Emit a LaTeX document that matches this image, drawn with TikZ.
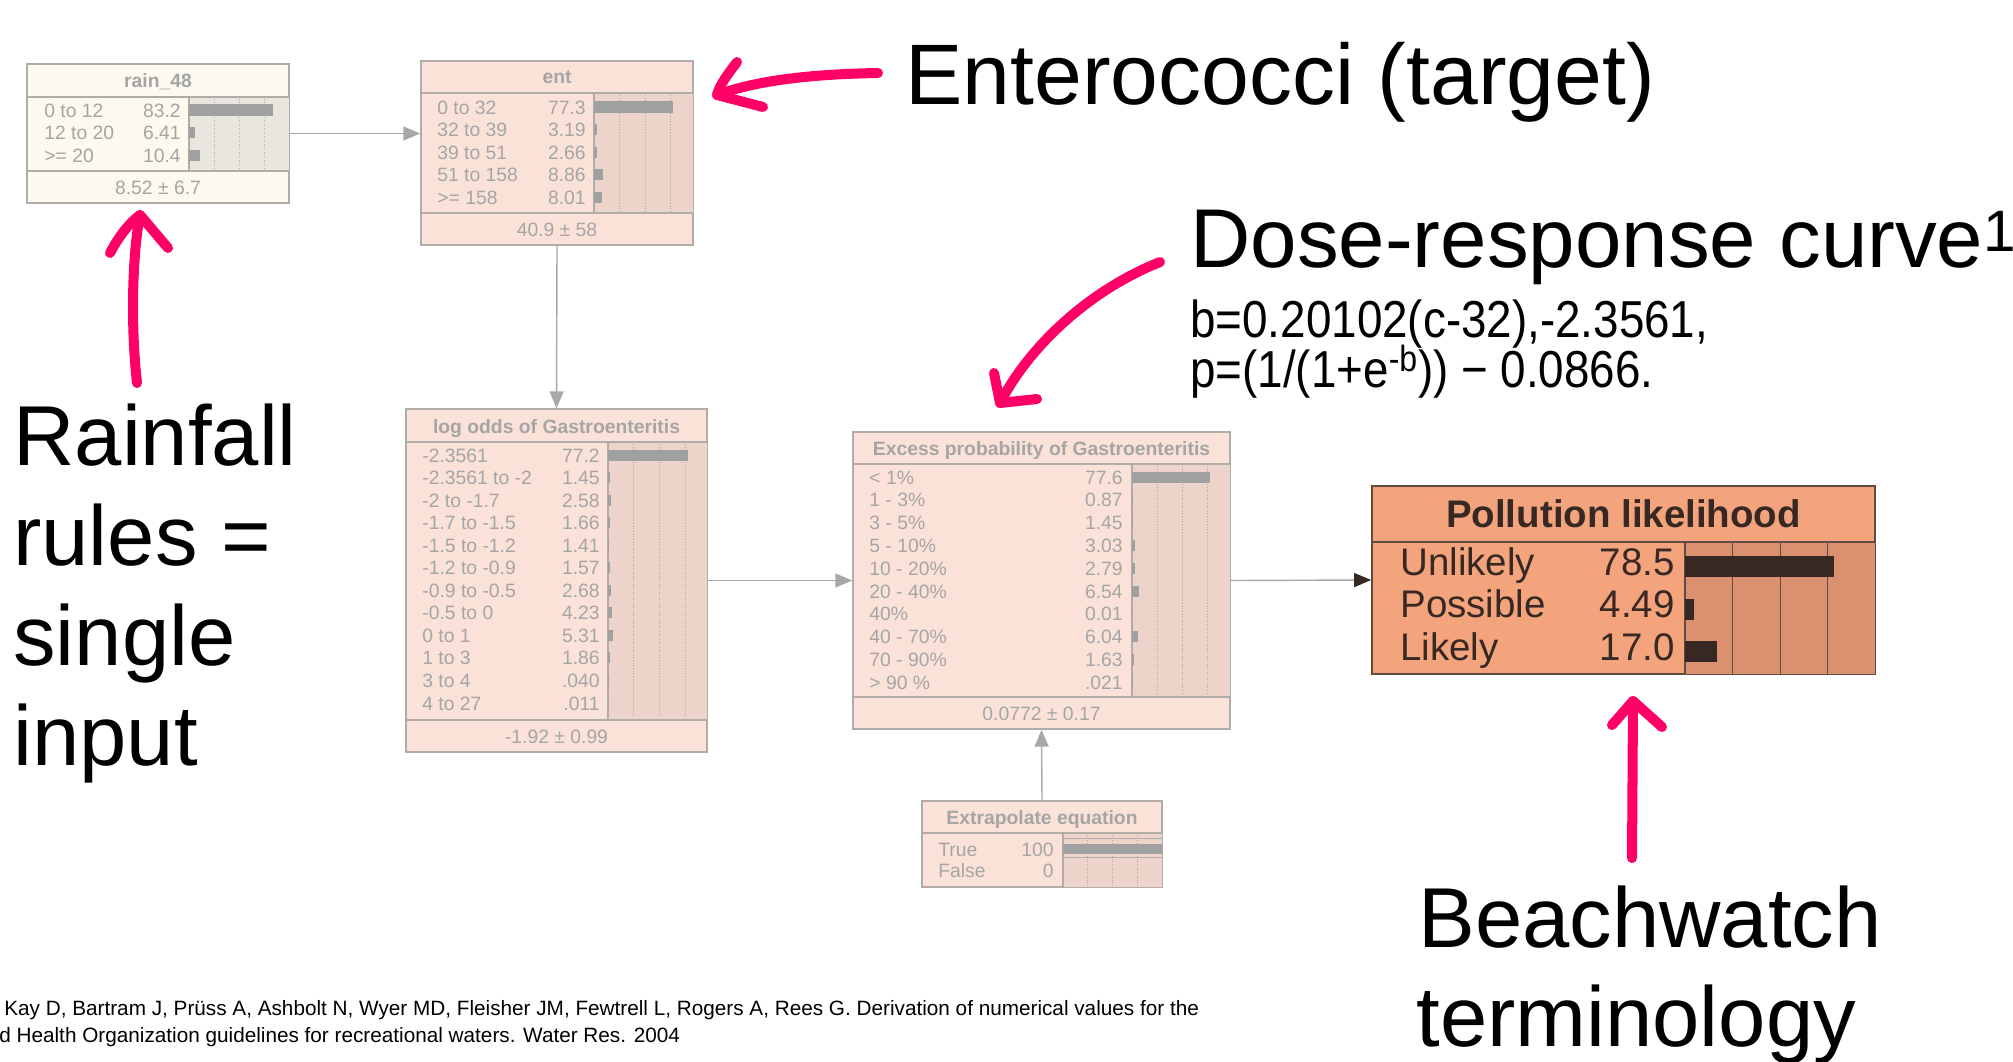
\documentclass[tikz,border=0pt]{standalone}
\usepackage{fontspec}
\setmainfont{Liberation Sans}
\newfontfamily\formulafont[FakeStretch=0.88]{Liberation Sans}
\usepackage{xcolor}
\usetikzlibrary{arrows.meta, positioning, calc, fit}
\definecolor{pinkAnn}{RGB}{255, 0, 102}
\definecolor{netLine}{RGB}{178, 172, 169}
\definecolor{netText}{RGB}{165, 165, 165}
\definecolor{netBar}{RGB}{160, 160, 160}
\definecolor{linkGray}{RGB}{168, 168, 168}
\definecolor{rainFill}{RGB}{252, 249, 239}
\definecolor{rainPanel}{RGB}{233, 230, 223}
\definecolor{peachFill}{RGB}{251, 226, 216}
\definecolor{peachPanel}{RGB}{236, 212, 202}
\definecolor{polFill}{RGB}{244, 164, 124}
\definecolor{polPanel}{RGB}{219, 145, 112}
\definecolor{polLine}{RGB}{95, 75, 65}
\definecolor{polText}{RGB}{55, 40, 35}

\begin{document}
\begin{tikzpicture}[x=0.02cm, y=-0.02cm,
    netbox/.style={draw=netLine, line width=0.8pt, inner sep=0},
    netrule/.style={draw=netLine, line width=0.8pt},
    netdots/.style={draw=netLine, line width=0.5pt, densely dotted},
    nettext/.style={text=netText, inner sep=0, font=\fontsize{11}{13}\selectfont},
    nettitle/.style={nettext, anchor=base, font=\fontsize{11}{13}\selectfont\bfseries},
    netlab/.style={nettext, anchor=base west},
    netval/.style={nettext, anchor=base east},
    poltext/.style={text=polText, inner sep=0, font=\fontsize{21.9}{26}\selectfont},
    link/.style={draw=linkGray, line width=0.8pt, -{Triangle[length=0.34cm, width=0.28cm]}},
    ann/.style={inner sep=0, anchor=base west, font=\fontsize{48.4}{58}\selectfont},
    formula/.style={ann, font=\formulafont\fontsize{29.6}{36}\selectfont},
    cite/.style={inner sep=0, anchor=base west, font=\fontsize{11.8}{14}\selectfont},
    annarrow/.style={draw=pinkAnn, line width=5.7pt, line cap=round, line join=round}]
    \useasboundingbox (0,0) rectangle (2013,1061);

    % Nodo rain_48
    \node[netbox, fill=rainFill, fit={(27,64) (289,203)}] (rain) {};
    \fill[rainPanel] (189,97) rectangle (288.5,171);
    \foreach \k in {1,2,3} \draw[netdots] ({189+\k*25.3},99) -- ++(0,70);
    \draw[netrule] (27,97) -- (289,97) (27,171) -- (289,171) (189,97) -- (189,171);
    \node[nettitle] (rainT) at (158,88) {rain\_48};
    \foreach \lab/\val [count=\i] in {0 to 12/83.2, 12 to 20/6.41, >= 20/10.4} {
        \pgfmathsetmacro\yy{110+(\i-1)*22.5}
        \node[netlab] (rainL\i) at (44,\yy+7) {\lab};
        \node[netval] (rainV\i) at (181,\yy+7) {\val};
        \fill[netBar] (189,\yy-5.5) rectangle ({189+\val*1.01},\yy+5.5);
    }
    \node[nettext, anchor=base] (rainS) at (158,194) {8.52 ± 6.7};

    % Nodo ent
    \node[netbox, fill=peachFill, fit={(421,61) (693,245)}] (ent) {};
    \fill[peachPanel] (594,93) rectangle (692.5,213);
    \foreach \k in {1,2,3} \draw[netdots] ({594+\k*25.5},95) -- ++(0,116);
    \draw[netrule] (421,93) -- (693,93) (421,213) -- (693,213) (594,93) -- (594,213);
    \node[nettitle] (entT) at (557,84) {ent};
    \foreach \lab/\val [count=\i] in {0 to 32/77.3, 32 to 39/3.19, 39 to 51/2.66, 51 to 158/8.86, >= 158/8.01} {
        \pgfmathsetmacro\yy{107+(\i-1)*22.5}
        \node[netlab] (entL\i) at (437,\yy+7) {\lab};
        \node[netval] (entV\i) at (586,\yy+7) {\val};
        \fill[netBar] (594,\yy-5.5) rectangle ({594+\val*1.02},\yy+5.5);
    }
    \node[nettext, anchor=base] (entS) at (557,236) {40.9 ± 58};

    % Nodo log odds
    \node[netbox, fill=peachFill, fit={(406,409) (707,752)}] (logodds) {};
    \fill[peachPanel] (608,442) rectangle (706.5,720);
    \foreach \k in {1,2,3} \draw[netdots] ({608+\k*25.7},444) -- ++(0,274);
    \draw[netrule] (406,442) -- (707,442) (406,720) -- (707,720) (608,442) -- (608,720);
    \node[nettitle] (logT) at (556.5,433) {log odds of Gastroenteritis};
    \foreach \lab/\val/\p [count=\i] in {-2.3561/77.2/77.2, -2.3561 to -2/1.45/1.45, -2 to -1.7/2.58/2.58,
        -1.7 to -1.5/1.66/1.66, -1.5 to -1.2/1.41/1.41, -1.2 to -0.9/1.57/1.57, -0.9 to -0.5/2.68/2.68,
        -0.5 to 0/4.23/4.23, 0 to 1/5.31/5.31, 1 to 3/1.86/1.86, 3 to 4/.040/0.04, 4 to 27/.011/0.011} {
        \pgfmathsetmacro\yy{455+(\i-1)*22.55}
        \node[netlab] (logL\i) at (422,\yy+7) {\lab};
        \node[netval] (logV\i) at (600,\yy+7) {\val};
        \fill[netBar] (608,\yy-5.5) rectangle ({608+\p*1.03},\yy+5.5);
    }
    \node[nettext, anchor=base] (logS) at (556.5,743) {-1.92 ± 0.99};

    % Nodo Excess probability
    \node[netbox, fill=peachFill, fit={(853,432) (1230,729)}] (excess) {};
    \fill[peachPanel] (1132,464) rectangle (1229.5,697);
    \foreach \k in {1,2,3} \draw[netdots] ({1132+\k*25},466) -- ++(0,229);
    \draw[netrule] (853,464) -- (1230,464) (853,697) -- (1230,697) (1132,464) -- (1132,697);
    \node[nettitle] (excT) at (1041.5,455) {Excess probability of Gastroenteritis};
    \foreach \lab/\val/\p [count=\i] in {< 1\%/77.6/77.6, 1 - 3\%/0.87/0.87, 3 - 5\%/1.45/1.45,
        5 - 10\%/3.03/3.03, 10 - 20\%/2.79/2.79, 20 - 40\%/6.54/6.54, 40\%/0.01/0.01,
        40 - 70\%/6.04/6.04, 70 - 90\%/1.63/1.63, > 90 \%/.021/0.021} {
        \pgfmathsetmacro\yy{477+(\i-1)*22.8}
        \node[netlab] (excL\i) at (869,\yy+7) {\lab};
        \node[netval] (excV\i) at (1123,\yy+7) {\val};
        \fill[netBar] (1132,\yy-5.5) rectangle ({1132+\p*1.0},\yy+5.5);
    }
    \node[nettext, anchor=base] (excS) at (1041.5,720) {0.0772 ± 0.17};

    % Nodo Extrapolate equation
    \node[netbox, fill=peachFill, fit={(922,801) (1162,887)}] (extrap) {};
    \fill[peachPanel] (1063,833) rectangle (1161.5,886.5);
    \foreach \k in {1,2,3} \draw[netdots] ({1063+\k*24.8},835) -- ++(0,51);
    \draw[netrule] (922,833) -- (1162,833) (1063,833) -- (1063,887);
    \draw[netLine, line width=0.4pt] (1063,838) -- (1162,838) (1063,857) -- (1162,857);
    \node[nettitle] (extT) at (1042,824) {Extrapolate equation};
    \foreach \lab/\val [count=\i] in {True/100, False/0} {
        \pgfmathsetmacro\yy{849+(\i-1)*21}
        \node[netlab] (extL\i) at (938,\yy+7) {\lab};
        \node[netval] (extV\i) at (1054,\yy+7) {\val};
        \fill[netBar] (1063,\yy-5) rectangle ({1063+\val*0.99},\yy+5);
    }

    % Nodo Pollution likelihood
    \node[draw=polLine, line width=1pt, inner sep=0, fill=polFill, fit={(1372,486) (1875,674)}] (pollution) {};
    \fill[polPanel] (1685,542) rectangle (1874.5,673.5);
    \foreach \k in {1,2,3} \draw[polLine, line width=0.5pt] ({1685+\k*47.5},542) -- ++(0,132);
    \draw[polLine, line width=1pt] (1372,542) -- (1875,542) (1685,542) -- (1685,674);
    \node[poltext, anchor=base, font=\fontsize{21.9}{26}\selectfont\bfseries] (polT) at (1623.5,527) {Pollution likelihood};
    \foreach \lab/\val [count=\i] in {Unlikely/78.5, Possible/4.49, Likely/17.0} {
        \pgfmathsetmacro\yy{575+(\i-1)*42.5}
        \node[poltext, anchor=base west] (polL\i) at (1400,\yy) {\lab};
        \node[poltext, anchor=base east] (polV\i) at (1675,\yy) {\val};
        \fill[polText] (1685,\yy-19) rectangle ({1685+\val*1.9},\yy+2);
    }

    % Enlaces de la red
    \draw[link] (rain.east) -- (rain.east -| ent.west);
    \draw[link] (ent.south) -- (logodds.north);
    \draw[link] (logodds.east) -- (excess.west);
    \draw[link, -{Triangle[length=0.34cm, width=0.28cm, color=polText]}] (excess.east) -- (pollution.west);
    \draw[link] (extrap.north) -- (excess.south);

    % Anotaciones
    \node[ann, font=\fontsize{48.9}{58}\selectfont] (entAnn) at (905,105) {Enterococci (target)};
    \node[ann, font=\fontsize{47.5}{58}\selectfont] (doseAnn) at (1190,267) {Dose-response curve\textsuperscript{1}};
    \node[formula] (doseB) at (1190,337) {b=0.20102(c-32),-2.3561,};
    \node[formula] (doseP) at (1190,387) {p=(1/(1+e\textsuperscript{-b})) − 0.0866.};
    \foreach \txt [count=\i] in {Rainfall, rules =, single, input}
        \node[ann] (rainAnn\i) at (13,{465+(\i-1)*100.3}) {\txt};
    \node[ann] (beachAnnA) at (1418,947) {Beachwatch};
    \node[ann] (beachAnnB) at (1416,1046) {terminology};
    \node[cite] (citeA) at (4,1015) {Kay D, Bartram J, Prüss A, Ashbolt N, Wyer MD, Fleisher JM, Fewtrell L, Rogers A, Rees G. Derivation of numerical values for the};
    \node[cite] (citeB) at (-1,1042) {d Health Organization guidelines for recreational waters. Water Res. 2004};

    % Flechas rosas
    \coordinate (entFrom) at (878,73);
    \coordinate (entTip) at (717,95);
    \draw[annarrow] (entFrom) .. controls (820,74) and (760,79) .. (entTip);
    \draw[annarrow] (737,62) .. controls (728,74) and (720,84) .. (entTip) -- (763,107);
    \coordinate (doseFrom) at (1160,262);
    \coordinate (doseTip) at (1000,403);
    \draw[annarrow] (doseFrom) .. controls (1090,290) and (1030,345) .. (doseTip);
    \draw[annarrow] (994,373) -- (doseTip) -- (1037,399);
    \coordinate (rainFrom) at (137,383);
    \coordinate (rainTip) at (140,215);
    \draw[annarrow] (rainFrom) .. controls (130,320) and (133,250) .. (rainTip);
    \draw[annarrow] (110,253) .. controls (118,238) and (128,224) .. (rainTip) -- (168,248);
    \coordinate (beachFrom) at (1632,858);
    \coordinate (beachTip) at (1633,701);
    \draw[annarrow] (beachFrom) -- (beachTip);
    \draw[annarrow] (1612,725) -- (beachTip) -- (1662,727);
\end{tikzpicture}
\end{document}
